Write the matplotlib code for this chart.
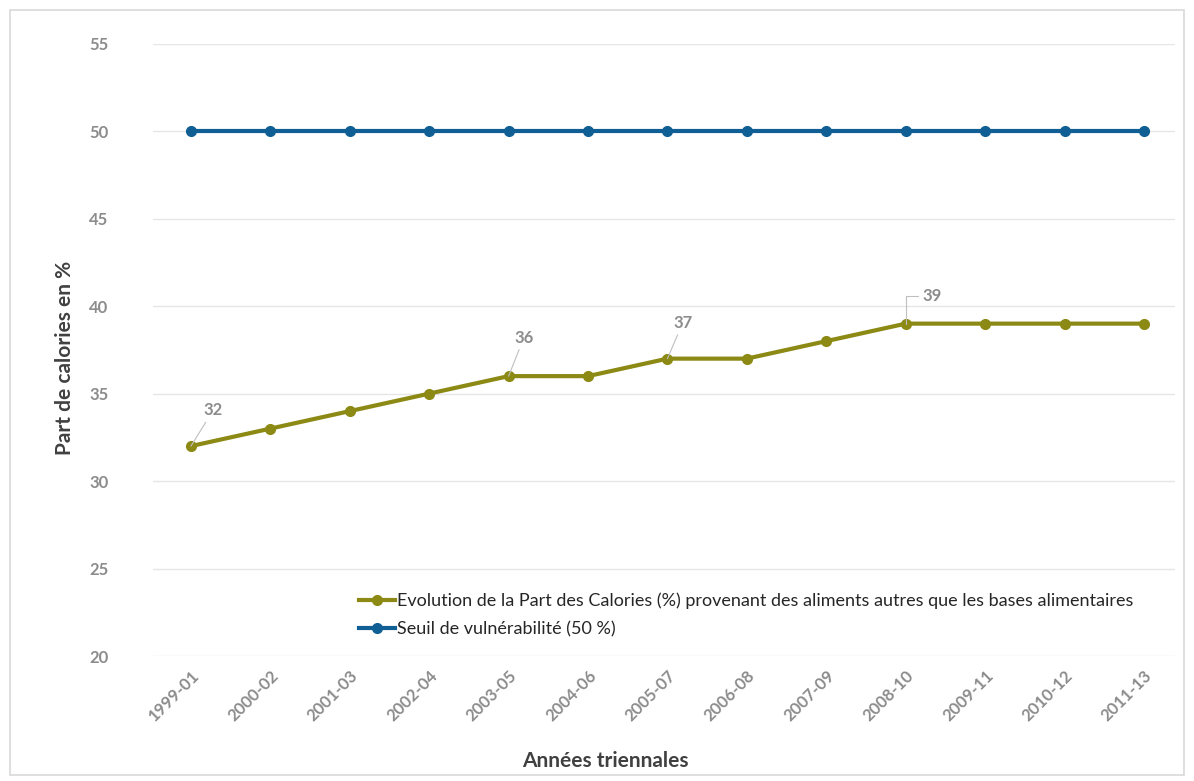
import matplotlib
matplotlib.use("Agg")
import matplotlib.pyplot as plt
from matplotlib.patches import Rectangle

plt.rcParams["font.family"] = ["Lato", "DejaVu Sans"]

# data
periods = ["1999-01", "2000-02", "2001-03", "2002-04", "2003-05", "2004-06", "2005-07",
           "2006-08", "2007-09", "2008-10", "2009-11", "2010-12", "2011-13"]
part_calories = [32, 33, 34, 35, 36, 36, 37, 37, 38, 39, 39, 39, 39]
seuil = [50] * len(periods)
labelled = {0: "32", 4: "36", 6: "37", 9: "39"}

OLIVE = "#8c8a14"
BLUE = "#0f5f94"
GREY = "#8c8c8c"

fig = plt.figure(figsize=(11.94, 7.81), dpi=100)
fig.patches.append(Rectangle((10 / 1194, 6 / 781), 1174 / 1194, 765 / 781,
                             transform=fig.transFigure, fill=False,
                             edgecolor="#d9d9d9", lw=1.2))
ax = fig.add_axes([0.128, 0.160, 0.856, 0.784])

x = list(range(len(periods)))
ax.plot(x, part_calories, color=OLIVE, lw=3, marker="o", ms=7,
        label="Evolution de la Part des Calories (%) provenant des aliments autres que les bases alimentaires",
        zorder=3)
ax.plot(x, seuil, color=BLUE, lw=3, marker="o", ms=7,
        label="Seuil de vulnérabilité (50 %)", zorder=3)

# data labels with leader lines
offsets = {0: (16, 20), 4: (11, 22), 6: (11, 20), 9: (19, 14)}
for i, txt in labelled.items():
    dx, dy = offsets[i]
    if i == 9:
        conn = "angle,angleA=0,angleB=90,rad=0"
    else:
        conn = "arc3"
    ax.annotate(txt, xy=(x[i], part_calories[i]), xytext=(dx, dy),
                textcoords="offset points", color=GREY, fontsize=12,
                fontweight="bold", ha="center", va="bottom",
                arrowprops=dict(arrowstyle="-", color="#bfbfbf", lw=0.8,
                                connectionstyle=conn, shrinkA=1, shrinkB=0))

ax.set_xlim(-0.48, 12.39)
ax.set_ylim(20, 55)
ax.set_yticks(range(20, 56, 5))
ax.set_xticks(x)
ax.set_xticklabels(periods, rotation=45, ha="right", rotation_mode="anchor")
ax.tick_params(axis="both", length=0, labelcolor=GREY, labelsize=12)
ax.tick_params(axis="y", pad=32)
ax.tick_params(axis="x", pad=8)
for lab in ax.get_xticklabels() + ax.get_yticklabels():
    lab.set_fontweight("bold")
ax.grid(axis="y", color="#e6e6e6", lw=1)
ax.set_axisbelow(True)
for s in ax.spines.values():
    s.set_visible(False)

ax.set_ylabel("Part de calories en %", fontsize=15, fontweight="bold",
              color="#404040")
ax.yaxis.set_label_coords(-0.076, 0.487)
ax.set_xlabel("Années triennales", fontsize=15, fontweight="bold",
              color="#404040")
ax.xaxis.set_label_coords(0.443, -0.155)

ax.legend(loc="upper left", bbox_to_anchor=(0.186, 0.13), frameon=False,
          fontsize=13, handlelength=2.0, handletextpad=0.1, labelspacing=0.68,
          labelcolor="#262626")

fig.savefig("out.png", dpi=100)
